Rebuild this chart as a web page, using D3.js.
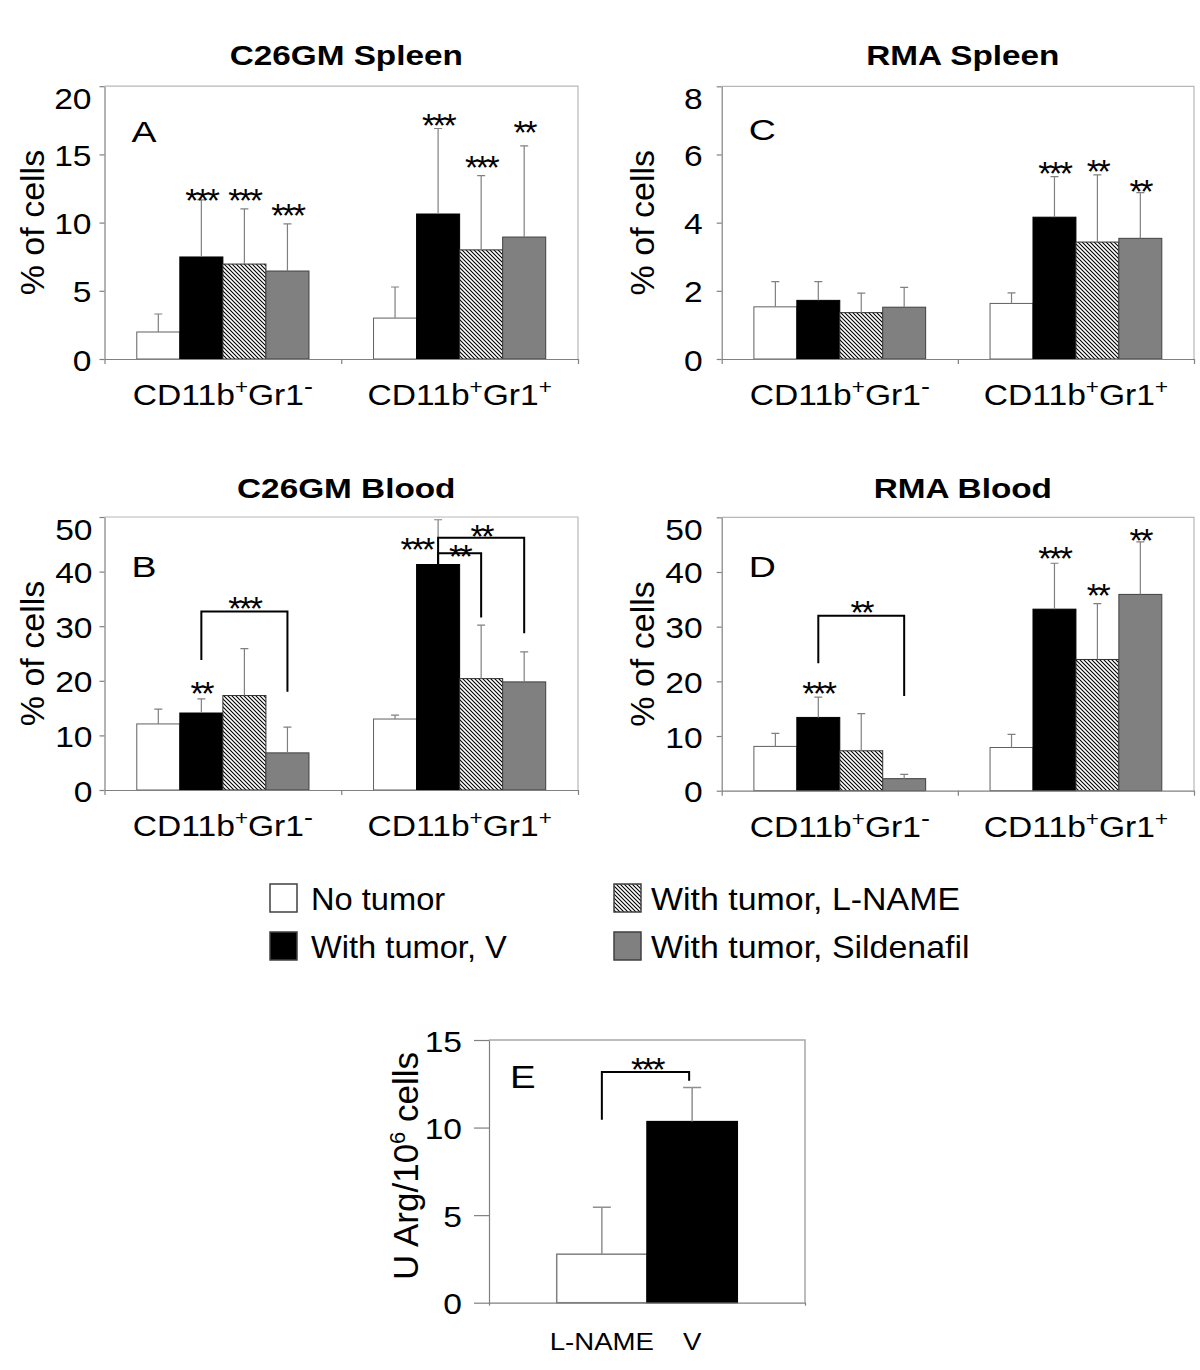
<!DOCTYPE html>
<html><head><meta charset="utf-8">
<script src="https://cdn.jsdelivr.net/npm/d3@7"></script>
<style>
body{margin:0;background:#fff}
svg{display:block;background:#fff}
text{font-family:"Liberation Sans",Arial,Helvetica,sans-serif;fill:#000}
</style>
</head><body>
<svg id="chart" width="1200" height="1370"></svg>
<script>
// ---------------- DATA ----------------
const series = ["No tumor", "With tumor, V", "With tumor, L-NAME", "With tumor, Sildenafil"];
const categories = ["CD11b+Gr1-", "CD11b+Gr1+"];

// Panel A: C26GM Spleen
const c26SpleenMean = [[1.98, 7.48, 6.96, 6.45], [3.0, 10.63, 8.0, 8.94]];
const c26SpleenSD   = [[1.32, 4.18, 4.04, 3.45], [2.28, 6.27, 5.44, 6.68]];
const c26SpleenTicks = [0, 5, 10, 15, 20];
const c26SpleenStars = [
  {g:0, s:1, t:"***", y:12.24}, {g:0, s:2, t:"***", y:12.24}, {g:0, s:3, t:"***", y:11.14},
  {g:1, s:1, t:"***", y:17.74}, {g:1, s:2, t:"***", y:14.66}, {g:1, s:3, t:"**", y:17.23}
];

// Panel C: RMA Spleen
const rmaSpleenMean = [[1.53, 1.72, 1.36, 1.52], [1.63, 4.16, 3.43, 3.54]];
const rmaSpleenSD   = [[0.74, 0.55, 0.57, 0.58], [0.31, 1.19, 1.97, 1.34]];
const rmaSpleenTicks = [0, 2, 4, 6, 8];
const rmaSpleenStars = [
  {g:1, s:1, t:"***", y:5.69}, {g:1, s:2, t:"**", y:5.75}, {g:1, s:3, t:"**", y:5.16}
];

// Panel B: C26GM Blood
const c26BloodMean = [[12.1, 14.1, 17.3, 6.8], [13.0, 41.3, 20.4, 19.8]];
const c26BloodSD   = [[2.7, 2.6, 8.6, 4.7], [0.7, 8.2, 9.8, 5.5]];
const c26BloodTicks = [0, 10, 20, 30, 40, 50];
const c26BloodStars = [
  {g:0, s:1, t:"**", y:19.2}, {g:1, s:1, t:"***", y:45.5, dx:-0.5}
];
const c26BloodBrackets = [
  {g:0, from:1, to:3, top:32.7, y1:23.8, y2:18.0, t:"***", ly:34.8},
  {g:1, from:1, to:2, top:43.35, y1:41.3, y2:31.6, t:"**", ly:44.3},
  {g:1, from:1, to:3, top:46.2, y1:41.3, y2:28.7, t:"**", ly:48.0}
];

// Panel D: RMA Blood
const rmaBloodMean = [[8.1, 13.4, 7.3, 2.2], [7.9, 33.2, 24.0, 35.9]];
const rmaBloodSD   = [[2.4, 3.7, 6.8, 0.8], [2.4, 8.4, 10.2, 9.6]];
const rmaBloodTicks = [0, 10, 20, 30, 40, 50];
const rmaBloodStars = [
  {g:0, s:1, t:"***", y:19.3}, {g:1, s:1, t:"***", y:44.0}, {g:1, s:2, t:"**", y:37.2}, {g:1, s:3, t:"**", y:47.2}
];
const rmaBloodBrackets = [
  {g:0, from:1, to:3, top:32.0, y1:23.3, y2:17.3, t:"**", ly:34.1}
];

// Panel E: arginase
const argLabels = ["L-NAME", "V"];
const argMean = [2.77, 10.34];
const argSD   = [2.68, 1.95];
const argTicks = [0, 5, 10, 15];
const argBracket = {from:0, to:1, top:13.17, y1:10.44, y2:12.67, t:"***", ly:13.8};

// ---------------- STYLE / LAYOUT ----------------
const fills   = ["#ffffff", "#000000", "url(#hatch)", "#808080"];
const strokes = ["#606060", "#000000", "#303030", "#404040"];

const svg = d3.select("#chart");
const defs = svg.append("defs");
const pat = defs.append("pattern").attr("id","hatch").attr("patternUnits","userSpaceOnUse")
  .attr("width",4).attr("height",4);
pat.append("rect").attr("width",4).attr("height",4).attr("fill","#fff");
pat.append("path").attr("d","M0,0L4,4M-1,3L1,5M3,-1L5,1").attr("stroke","#000").attr("stroke-width",1.1);

function stext(g, x, y, str, size, sx, anchor, weight) {
  return g.append("text")
    .attr("transform", `translate(${x},${y}) scale(${sx},1)`)
    .attr("font-size", size)
    .attr("text-anchor", anchor || "start")
    .attr("font-weight", weight || "normal")
    .text(str);
}

function catLabel(g, x, y, label) {
  const m = label.match(/^(CD11b)([+-])(Gr1)([+-])$/);
  const t = g.append("text")
    .attr("transform", `translate(${x},${y}) scale(1.12,1)`)
    .attr("text-anchor","middle").attr("font-size",30);
  t.append("tspan").text(m[1]);
  t.append("tspan").attr("font-size",20).attr("dy",-11).text(m[2]);
  t.append("tspan").attr("font-size",30).attr("dy",11).text(m[3]);
  t.append("tspan").attr("font-size", m[4] === "-" ? 24 : 20).attr("dy",-11).text(m[4]);
}

const panels = [
  {letter:"A", title:"C26GM Spleen", mean:c26SpleenMean, sd:c26SpleenSD, ticks:c26SpleenTicks, stars:c26SpleenStars, brackets:[],
   left:104.5, right:578, top:86.2, bottom:359, titleY:65, letterY:141.7, ylabX:43.5, tickGap:13},
  {letter:"C", title:"RMA Spleen", mean:rmaSpleenMean, sd:rmaSpleenSD, ticks:rmaSpleenTicks, stars:rmaSpleenStars, brackets:[],
   left:721.7, right:1194, top:86.3, bottom:359, titleY:65, letterY:140, ylabX:653.6, tickGap:19},
  {letter:"B", title:"C26GM Blood", mean:c26BloodMean, sd:c26BloodSD, ticks:c26BloodTicks, stars:c26BloodStars, brackets:c26BloodBrackets,
   left:104.5, right:578, top:517, bottom:790, titleY:498, letterY:576.7, ylabX:43.5, tickGap:12},
  {letter:"D", title:"RMA Blood", mean:rmaBloodMean, sd:rmaBloodSD, ticks:rmaBloodTicks, stars:rmaBloodStars, brackets:rmaBloodBrackets,
   left:721.7, right:1194, top:517.3, bottom:790.7, titleY:498, letterY:576.7, ylabX:653.6, tickGap:19}
];

function styleAxis(a) {
  a.select(".domain").attr("stroke","#808080").attr("stroke-width",1.2);
  a.selectAll(".tick line").attr("stroke","#808080").attr("stroke-width",1.2);
}

const STAR = 34;
function drawStars(g, x, y, str) {
  g.append("text").attr("x", x).attr("y", y + 0.58*STAR).attr("text-anchor","middle")
    .attr("letter-spacing", -2.5).attr("font-size", STAR).text(str);
}

panels.forEach(p => {
  const g = svg.append("g");
  const yMax = p.ticks[p.ticks.length-1];
  const y = d3.scaleLinear().domain([0, yMax]).range([p.bottom, p.top]);
  const x0 = d3.scaleBand().domain(d3.range(categories.length)).range([p.left, p.right]).padding(0);
  const x1 = d3.scaleBand().domain(d3.range(series.length)).range([0, x0.bandwidth()]).paddingInner(0).paddingOuter(0.75);
  const cx = (gi, si) => x0(gi) + x1(si) + x1.bandwidth()/2;

  // frame
  g.append("path").attr("d", `M${p.left},${p.top}H${p.right}V${p.bottom}`)
    .attr("fill","none").attr("stroke","#b8b8b8").attr("stroke-width",1.2);

  // bars
  const rows = [];
  p.mean.forEach((row, gi) => row.forEach((v, si) => rows.push({gi, si, v, sd: p.sd[gi][si]})));
  g.selectAll("rect.bar").data(rows).join("rect").attr("class","bar")
    .attr("x", d => x0(d.gi) + x1(d.si))
    .attr("width", x1.bandwidth())
    .attr("y", d => y(d.v))
    .attr("height", d => y(0) - y(d.v))
    .attr("fill", d => fills[d.si])
    .attr("stroke", d => strokes[d.si]).attr("stroke-width",1);

  // error bars
  g.selectAll("path.err").data(rows).join("path").attr("class","err")
    .attr("d", d => {
      const c = cx(d.gi, d.si);
      return `M${c},${y(d.v)}V${y(d.v + d.sd)}M${c-4},${y(d.v + d.sd)}H${c+4}`;
    })
    .attr("fill","none").attr("stroke","#808080").attr("stroke-width",1.2);

  // y axis
  const ya = g.append("g").attr("transform", `translate(${p.left},0)`)
    .call(d3.axisLeft(y).tickValues(p.ticks).tickSize(5).tickSizeOuter(0));
  styleAxis(ya);
  ya.selectAll(".tick text")
    .attr("x", null).attr("dy", null)
    .attr("font-size", 30).attr("fill","#000")
    .attr("transform", d => `translate(${-p.tickGap},${11 + (d === yMax ? 11 : 0)}) scale(1.12,1)`);

  // x axis
  const xl = d3.scaleLinear().domain([0, categories.length]).range([p.left, p.right]);
  const xa = g.append("g").attr("transform", `translate(0,${p.bottom})`)
    .call(d3.axisBottom(xl).tickValues(d3.range(categories.length + 1)).tickSize(5).tickSizeOuter(0).tickFormat(""));
  styleAxis(xa);

  // category labels
  categories.forEach((c, gi) => catLabel(g, x0(gi) + x0.bandwidth()/2, p.bottom + 46, c));

  // title
  stext(g, (p.left + p.right)/2 + 5, p.titleY, p.title, 28, 1.19, "middle", "bold");
  // letter
  stext(g, p.left + 27, p.letterY, p.letter, 30, 1.25, "start");
  // y label
  g.append("text").attr("transform", `translate(${p.ylabX},${(p.top + p.bottom)/2}) rotate(-90)`)
    .attr("text-anchor","middle").attr("font-size",34).text("% of cells");

  // brackets
  p.brackets.forEach(b => {
    const xa_ = cx(b.g, b.from), xb_ = cx(b.g, b.to);
    g.append("path").attr("d", `M${xa_},${y(b.y1)}V${y(b.top)}H${xb_}V${y(b.y2)}`)
      .attr("fill","none").attr("stroke","#000").attr("stroke-width",2);
    drawStars(g, (xa_ + xb_)/2, y(b.ly), b.t);
  });

  // stars
  p.stars.forEach(s => {
    drawStars(g, cx(s.g, s.s) + (s.dx || 0) * x1.bandwidth(), y(s.y), s.t);
  });
});

// ---------------- LEGEND ----------------
const lg = svg.append("g");
const legCols = [270, 614], legTextX = [311, 651], legRows = [884, 932], legSX = [1.02, 1.06];
series.forEach((name, i) => {
  const col = Math.floor(i/2), row = i % 2;
  lg.append("rect").attr("x", legCols[col]).attr("y", legRows[row]).attr("width",27).attr("height",28)
    .attr("fill", fills[i]).attr("stroke", "#404040").attr("stroke-width",1.5);
  stext(lg, legTextX[col], legRows[row] + 26, name, 32, legSX[col], "start");
});

// ---------------- PANEL E ----------------
(function(){
  const p = {left:489, right:805, top:1040, bottom:1302.7};
  const g = svg.append("g");
  const y = d3.scaleLinear().domain([0, 15]).range([p.bottom, p.top]);
  const x = d3.scaleBand().domain(d3.range(argLabels.length)).range([p.left, p.right]).paddingInner(0).paddingOuter(0.75);
  const cx = i => x(i) + x.bandwidth()/2;
  g.append("path").attr("d", `M${p.left},${p.top}H${p.right}V${p.bottom}`)
    .attr("fill","none").attr("stroke","#a8a8a8").attr("stroke-width",1.5);
  const eFill = [fills[0], fills[1]], eStroke = ["#808080", "#000"];
  g.selectAll("rect.bar").data(argMean).join("rect").attr("class","bar")
    .attr("x", (d,i) => x(i)).attr("width", x.bandwidth())
    .attr("y", d => y(d)).attr("height", d => y(0) - y(d))
    .attr("fill", (d,i) => eFill[i]).attr("stroke", (d,i) => eStroke[i]).attr("stroke-width",1.5);
  g.selectAll("path.err").data(argMean).join("path").attr("class","err")
    .attr("d", (d,i) => `M${cx(i)},${y(d)}V${y(d + argSD[i])}M${cx(i)-9},${y(d + argSD[i])}H${cx(i)+9}`)
    .attr("fill","none").attr("stroke","#909090").attr("stroke-width",1.5);
  const ya = g.append("g").attr("transform", `translate(${p.left},0)`)
    .call(d3.axisLeft(y).tickValues(argTicks).tickSize(15).tickSizeOuter(0));
  styleAxis(ya);
  ya.selectAll(".tick text").attr("x", null).attr("dy", null)
    .attr("font-size", 30).attr("fill","#000")
    .attr("transform", `translate(-27,11) scale(1.12,1)`);
  const xl = d3.scaleLinear().domain([0,1]).range([p.left, p.right]);
  const xa = g.append("g").attr("transform", `translate(0,${p.bottom})`)
    .call(d3.axisBottom(xl).tickValues([0,1]).tickSize(3).tickSizeOuter(0).tickFormat(""));
  styleAxis(xa);
  argLabels.forEach((l, i) => stext(g, cx(i), 1350, l, 24, 1.15, "middle"));
  stext(g, 510, 1088, "E", 32, 1.2, "start");
  const yl = g.append("text").attr("transform", `translate(417.7,1166) rotate(-90)`)
    .attr("text-anchor","middle").attr("font-size",35);
  yl.append("tspan").text("U Arg/10");
  yl.append("tspan").attr("font-size",22).attr("dy",-13).text("6");
  yl.append("tspan").attr("dy",13).text(" cells");
  const b = argBracket;
  g.append("path").attr("d", `M${cx(b.from)},${y(b.y1)}V${y(b.top)}H${cx(b.to) - 3}V${y(b.y2)}`)
    .attr("fill","none").attr("stroke","#000").attr("stroke-width",2);
  drawStars(g, (cx(b.from) + cx(b.to))/2, y(b.ly), b.t);
})();
</script>
</body></html>
